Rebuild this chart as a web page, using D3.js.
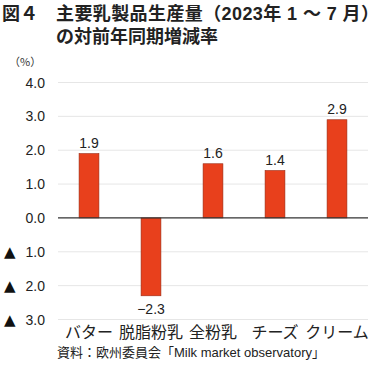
<!DOCTYPE html>
<html><head><meta charset="utf-8">
<script src="https://cdn.jsdelivr.net/npm/d3@7"></script>
<style>
body{margin:0;background:#fff;}
</style></head>
<body><svg id="c" width="380" height="369"></svg>
<script>
const categories = ["バター","脱脂粉乳","全粉乳","チーズ","クリーム"];
const values = [1.9, -2.3, 1.6, 1.4, 2.9];
const valueLabels = ["1.9","−2.3","1.6","1.4","2.9"];
const yTicks = [4, 3, 2, 1, 0, -1, -2, -3];
const yTickLabels = ["4.0","3.0","2.0","1.0","0.0","1.0","2.0","3.0"];
const titleNo = "図４";
const titleLine1 = "主要乳製品生産量（2023年 1 ～ 7 月）";
const titleLine2 = "の対前年同期増減率";
const unitLabel = "（%）";
const sourceText = "資料：欧州委員会「Milk market observatory」";

const svg = d3.select("#c");
const x = d3.scaleBand().domain(categories).range([58, 368]).paddingInner(0.68).paddingOuter(0.34);
const y = d3.scaleLinear().domain([-3, 4]).range([319.5, 82.5]);

const latin = "'Liberation Sans', 'Noto Sans CJK JP', sans-serif";
const cjk = "'Noto Sans CJK JP', sans-serif";
svg.append("text").attr("x", 2).attr("y", 20).attr("font-size", 18).attr("font-weight", "bold").attr("fill", "#222").style("font-family", cjk).text(titleNo);
svg.append("text").attr("x", 56).attr("y", 20).attr("font-size", 18).attr("font-weight", "bold").attr("fill", "#222").style("font-family", latin)
  .attr("textLength", 323).attr("lengthAdjust", "spacing").text(titleLine1);
svg.append("text").attr("x", 56).attr("y", 43).attr("font-size", 18).attr("font-weight", "bold").attr("fill", "#222").style("font-family", cjk).text(titleLine2);
svg.append("text").attr("x", 9).attr("y", 66).attr("font-size", 11).attr("fill", "#333").style("font-family", cjk).text(unitLabel);

// grid
svg.append("g").selectAll("line").data(yTicks.filter(d => d !== 0)).join("line")
  .attr("x1", 58).attr("x2", 368).attr("y1", d => y(d)).attr("y2", d => y(d))
  .attr("stroke", "#e6e6e6").attr("stroke-width", 1);

// y labels
svg.append("g").selectAll("text").data(yTicks).join("text")
  .attr("x", 45).attr("y", d => y(d)).attr("dy", "0.36em").attr("text-anchor", "end")
  .attr("font-size", 14).attr("fill", "#222").style("font-family", latin)
  .text((d, i) => yTickLabels[i]);
svg.append("g").selectAll("text").data(yTicks.filter(d => d < 0)).join("text")
  .attr("x", 4).attr("y", d => y(d)).attr("dy", "0.36em")
  .attr("font-size", 15).attr("fill", "#111").style("font-family", "'DejaVu Sans', sans-serif")
  .text("▲");

// bars
svg.append("g").selectAll("rect").data(values).join("rect")
  .attr("x", (d, i) => x(categories[i]))
  .attr("width", x.bandwidth())
  .attr("y", d => y(Math.max(0, d)))
  .attr("height", d => Math.abs(y(d) - y(0)))
  .attr("fill", "#e8401c").attr("stroke", "#9a2a14").attr("stroke-width", 0.6);

// zero line
svg.append("line").attr("x1", 58).attr("x2", 368).attr("y1", y(0)).attr("y2", y(0))
  .attr("stroke", "#333").attr("stroke-width", 1.2);

// value labels
svg.append("g").selectAll("text").data(values).join("text")
  .attr("x", (d, i) => x(categories[i]) + x.bandwidth() / 2)
  .attr("y", d => d >= 0 ? y(d) - 6 : y(d) + 18)
  .attr("text-anchor", "middle").attr("font-size", 14).attr("fill", "#222").style("font-family", latin)
  .text((d, i) => valueLabels[i]);

// x labels
svg.append("g").selectAll("text").data(categories).join("text")
  .attr("x", d => x(d) + x.bandwidth() / 2).attr("y", 338)
  .attr("text-anchor", "middle").attr("font-size", 16).attr("fill", "#222").style("font-family", cjk)
  .text(d => d);

svg.append("text").attr("x", 57).attr("y", 357).attr("font-size", 13).attr("fill", "#222").style("font-family", latin).text(sourceText);
</script></body></html>
